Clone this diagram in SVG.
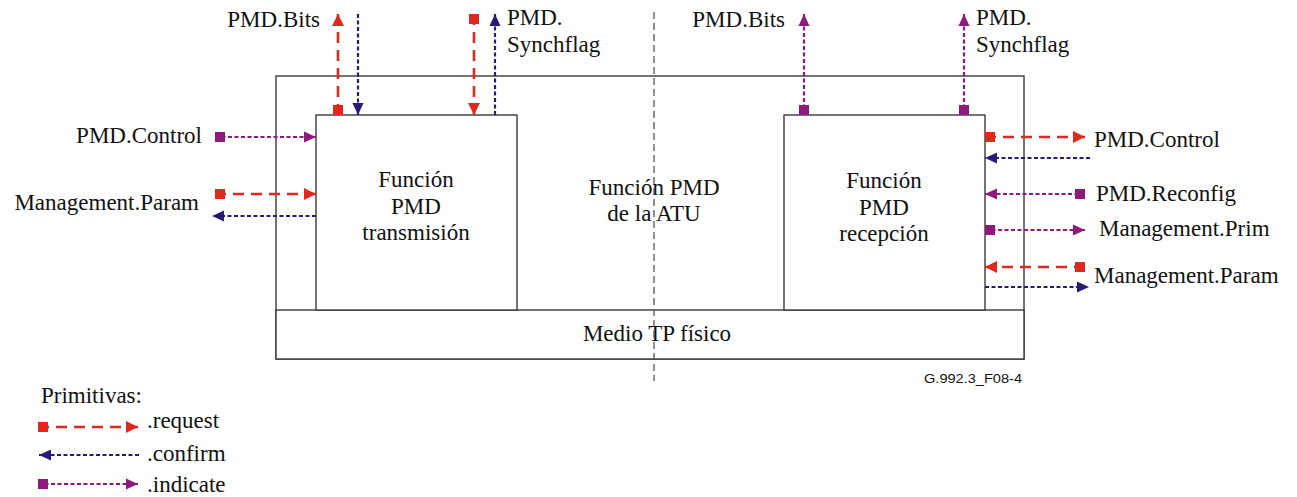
<svg xmlns="http://www.w3.org/2000/svg" width="1297" height="497" viewBox="0 0 1297 497">
  <style>
    text { font-family: "Liberation Serif", "Times New Roman", serif; font-size: 23px; fill: #111; }
    .mid { text-anchor: middle; }
    .end { text-anchor: end; }
    .box { fill: #fff; stroke: #3a3a3a; stroke-width: 1.4; }
    .req { fill: none; stroke: #e0281f; stroke-width: 2.6; stroke-dasharray: 11 7; }
    .cnf { fill: none; stroke: #2a1a78; stroke-width: 2.2; stroke-dasharray: 4 2.5; }
    .ind { fill: none; stroke: #8e1b7c; stroke-width: 2.2; stroke-dasharray: 4 2.5; }
    .req.a { marker-end: url(#arrRed); }
    .req.s { marker-start: url(#sqRed); }
    .cnf.a { marker-end: url(#arrBlue); }
    .ind.a { marker-end: url(#arrPurple); }
    .ind.s { marker-start: url(#sqPurple); }
    .divider { stroke: #555; stroke-width: 1.3; stroke-dasharray: 7 4; fill: none; }
    .tag { font-family: "Liberation Sans", Arial, sans-serif; font-size: 13.5px; }
  </style>
  <defs>
    <marker id="arrRed" markerUnits="userSpaceOnUse" markerWidth="13" markerHeight="13" refX="12" refY="6" orient="auto">
      <path d="M0,0 L12,6 L0,12 z" fill="#e0281f"/>
    </marker>
    <marker id="arrBlue" markerUnits="userSpaceOnUse" markerWidth="13" markerHeight="13" refX="12" refY="6" orient="auto">
      <path d="M0,0.5 L12,6 L0,11.5 z" fill="#2a1a78"/>
    </marker>
    <marker id="arrPurple" markerUnits="userSpaceOnUse" markerWidth="13" markerHeight="13" refX="12" refY="6" orient="auto">
      <path d="M0,0.5 L12,6 L0,11.5 z" fill="#8e1b7c"/>
    </marker>
    <marker id="sqRed" markerUnits="userSpaceOnUse" markerWidth="11" markerHeight="11" refX="0" refY="5" orient="auto">
      <rect x="0" y="0" width="10" height="10" fill="#e0281f"/>
    </marker>
    <marker id="sqPurple" markerUnits="userSpaceOnUse" markerWidth="11" markerHeight="11" refX="0" refY="5" orient="auto">
      <rect x="0" y="0" width="10" height="10" fill="#8e1b7c"/>
    </marker>
  </defs>

  <rect width="1297" height="497" fill="#fff"/>

  <!-- ATU PMD function enclosure -->
  <g id="atu-pmd">
    <rect class="box" x="276" y="76" width="748" height="283"/>
    <text class="mid" x="654" y="195">Función PMD</text>
    <text class="mid" x="654" y="221">de la ATU</text>
  </g>

  <!-- physical medium -->
  <g id="medio-tp">
    <rect class="box" x="276" y="310" width="748" height="49"/>
    <text class="mid" x="657" y="341">Medio TP físico</text>
  </g>

  <!-- transmit function -->
  <g id="pmd-tx">
    <rect class="box" x="316" y="115" width="201" height="195"/>
    <text class="mid" x="416" y="187">Función</text>
    <text class="mid" x="416" y="214">PMD</text>
    <text class="mid" x="416" y="240">transmisión</text>
  </g>

  <!-- receive function -->
  <g id="pmd-rx">
    <rect class="box" x="784" y="115" width="201" height="195"/>
    <text class="mid" x="884" y="188">Función</text>
    <text class="mid" x="884" y="215">PMD</text>
    <text class="mid" x="884" y="241">recepción</text>
  </g>

  <!-- dividing line between both sides -->
  <line class="divider" x1="654" y1="12" x2="654" y2="381"/>

  <!-- primitives -->
  <g id="connectors">
    <!-- transmit side, top -->
    <path class="req s a" d="M338,115 V14"/>
    <path class="cnf a" d="M358,14 V115"/>
    <path class="req s a" d="M474,14 V115"/>
    <path class="cnf a" d="M495,115 V14"/>
    <!-- transmit side, left -->
    <path class="ind s a" d="M215,137 H316"/>
    <path class="req s a" d="M215,194 H316"/>
    <path class="cnf a" d="M316,216 H212"/>
    <!-- receive side, top -->
    <path class="ind s a" d="M804,115 V14"/>
    <path class="ind s a" d="M964,115 V14"/>
    <!-- receive side, right -->
    <path class="req s a" d="M985,137 H1085"/>
    <path class="cnf a" d="M1090,158 H985"/>
    <path class="ind s a" d="M1085,194 H985"/>
    <path class="ind s a" d="M985,230 H1085"/>
    <path class="req s a" d="M1085,267 H985"/>
    <path class="cnf a" d="M985,287 H1089"/>
    <!-- legend -->
    <path class="req s a" d="M38,427 H138"/>
    <path class="cnf a" d="M139,455 H39"/>
    <path class="ind s a" d="M38,484 H138"/>
  </g>

  <!-- primitive names -->
  <g id="labels">
    <text class="end" x="320" y="27">PMD.Bits</text>
    <text x="507" y="25">PMD.</text>
    <text x="507" y="52">Synchflag</text>
    <text class="end" x="785" y="27">PMD.Bits</text>
    <text x="976" y="25">PMD.</text>
    <text x="976" y="52">Synchflag</text>
    <text class="end" x="202" y="143">PMD.Control</text>
    <text class="end" x="199" y="210">Management.Param</text>
    <text x="1094" y="147">PMD.Control</text>
    <text x="1096" y="201">PMD.Reconfig</text>
    <text x="1099" y="236">Management.Prim</text>
    <text x="1094" y="283">Management.Param</text>
  </g>

  <!-- legend -->
  <g id="legend">
    <text x="41" y="403">Primitivas:</text>
    <text x="147" y="428">.request</text>
    <text x="147" y="461">.confirm</text>
    <text x="147" y="492">.indicate</text>
  </g>

  <text class="tag end" x="1022" y="383" textLength="98" lengthAdjust="spacingAndGlyphs">G.992.3_F08-4</text>
</svg>
